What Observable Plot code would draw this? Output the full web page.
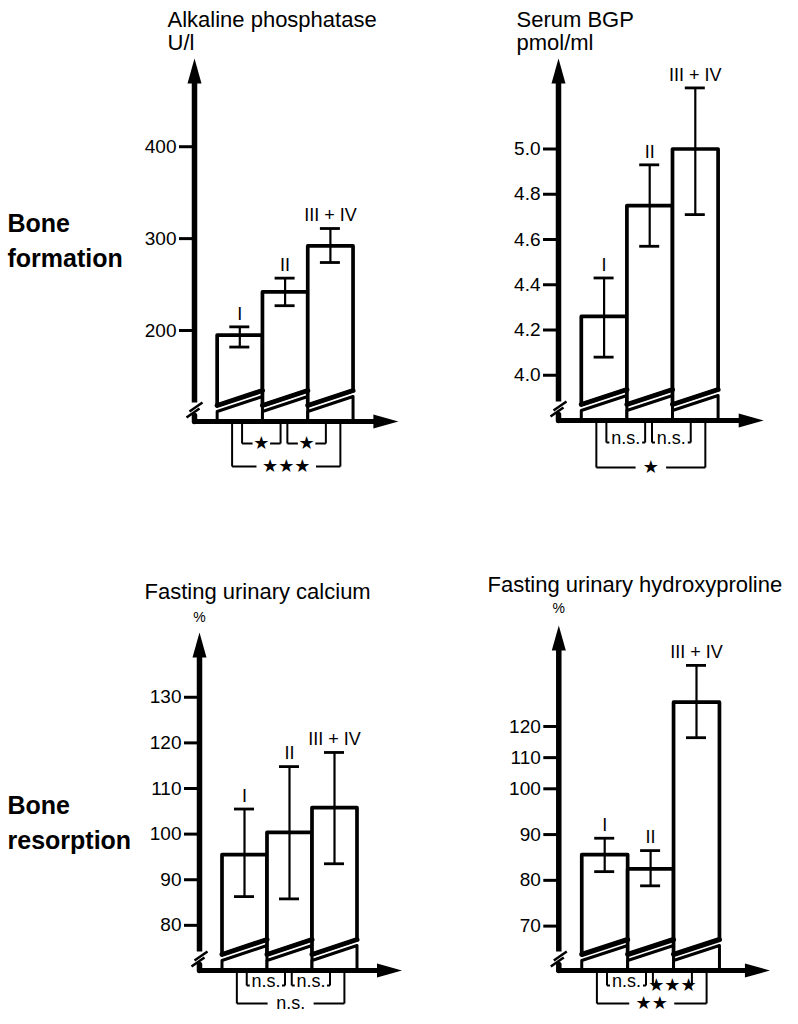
<!DOCTYPE html>
<html><head><meta charset="utf-8">
<script src="https://cdn.jsdelivr.net/npm/d3@7"></script>
<script src="https://cdn.jsdelivr.net/npm/@observablehq/plot@0.6"></script>
<style>
body{margin:0;background:#fff;}
#wrap{position:relative;width:798px;height:1024px;background:#fff;}
#wrap svg{position:absolute;}
</style></head><body><div id="wrap"></div>
<script>
// ---------- data ----------
const groups = ["I", "II", "III + IV"];
const sigPairs = [[0, 1], [1, 2], [0, 2]];

// Alkaline phosphatase, U/l
const alpMean = [195, 242, 292];
const alpLow = [182, 227, 274];
const alpHigh = [204, 257, 311];
const alpTicks = [200, 300, 400];
const alpSig = ["★", "★", "★★★"];

// Serum BGP, pmol/ml
const bgpMean = [4.26, 4.75, 5.00];
const bgpLow = [4.08, 4.57, 4.71];
const bgpHigh = [4.43, 4.93, 5.27];
const bgpTicks = [4.0, 4.2, 4.4, 4.6, 4.8, 5.0];
const bgpSig = ["n.s.", "n.s.", "★"];

// Fasting urinary calcium, %
const caMean = [95.5, 100.4, 105.8];
const caLow = [86.3, 85.8, 93.5];
const caHigh = [105.5, 114.8, 117.9];
const caTicks = [80, 90, 100, 110, 120, 130];
const caSig = ["n.s.", "n.s.", "n.s."];

// Fasting urinary hydroxyproline, %
const hypMean = [85.6, 82.5, 127.8];
const hypLow = [81.9, 78.8, 116.4];
const hypHigh = [89.2, 86.5, 139.6];
const hypTicks = [70, 80, 90, 100, 110, 120];
const hypSig = ["n.s.", "★★★", "★★"];

// ---------- layout / style ----------
const FONT = "Liberation Sans, Arial, Helvetica, sans-serif";
const STAR_FONT = "DejaVu Sans, sans-serif";
const arrowUp = {draw(c) { c.moveTo(0, 0); c.lineTo(7, 25); c.lineTo(-7, 25); c.closePath(); }};
const arrowRight = {draw(c) { c.moveTo(0, 0); c.lineTo(-25, -7); c.lineTo(-25, 7); c.closePath(); }};

const panels = [
  {left: 0, top: 0, axisX: 194, unit: 45.3, xMax: 4, yDomain: [101, 496], yRange: [421, 58],
   inner: 22, outer: 45, title: "Alkaline phosphatase", unitLabel: "U/l", titleX: 167, titleY: 26, unitY: 49,
   side: "Bone\nformation", sideY: 266, fmt: d3.format("d"),
   data: {mean: alpMean, low: alpLow, high: alpHigh, ticks: alpTicks, sig: alpSig}},
  {left: 399, top: 0, axisX: 159, unit: 45.6, xMax: 4, yDomain: [3.80, 5.40], yRange: [420, 58],
   inner: 22, outer: 47, title: "Serum BGP", unitLabel: "pmol/ml", titleX: 117, titleY: 26, unitY: 49,
   fmt: d3.format(".1f"),
   data: {mean: bgpMean, low: bgpLow, high: bgpHigh, ticks: bgpTicks, sig: bgpSig}},
  {left: 0, top: 512, axisX: 199, unit: 45, xMax: 4, yDomain: [70.1, 144.2], yRange: [458, 120],
   inner: 15, outer: 33, title: "Fasting urinary calcium", pct: true, pctY: 109, titleX: 144, titleY: 86,
   side: "Bone\nresorption", sideY: 336, fmt: d3.format("d"),
   data: {mean: caMean, low: caLow, high: caHigh, ticks: caTicks, sig: caSig}},
  // this axis is drawn with a tighter spacing above 100 in the original
  {left: 399, top: 512, axisX: 159.3, unit: 45.9, xMax: 4.1, yDomain: [60.3, 100, 152.4], yRange: [458, 276.3, 113],
   inner: 15, outer: 33, title: "Fasting urinary hydroxyproline", pct: true, pctY: 100, titleX: 88, titleY: 79,
   fmt: d3.format("d"),
   data: {mean: hypMean, low: hypLow, high: hypHigh, ticks: hypTicks, sig: hypSig}}
];

function panel(cfg) {
  const d = cfg.data;
  const ys = d3.scaleLinear(cfg.yDomain, cfg.yRange);
  const yAt = px => ys.invert(px);
  const B = cfg.yRange[0];
  const T = cfg.yRange[cfg.yRange.length - 1];
  const yB = cfg.yDomain[0];
  const yT = cfg.yDomain[cfg.yDomain.length - 1];
  const u = cfg.unit;
  const ax = -0.5;

  // y scale for Plot: piecewise axes use a scale transform
  let yOpts;
  if (cfg.yDomain.length === 3) {
    const [d0, d1, d2] = cfg.yDomain, [r0, r1, r2] = cfg.yRange;
    const ratio = ((r1 - r2) / (d2 - d1)) / ((r0 - r1) / (d1 - d0));
    const tf = v => v <= d1 ? v : d1 + (v - d1) * ratio;
    yOpts = {transform: tf, domain: [d0, tf(d2)], range: [r0, r2], axis: null};
  } else {
    yOpts = {domain: cfg.yDomain, range: cfg.yRange, axis: null};
  }

  const rows = groups.map((g, i) => ({g, i, mean: d.mean[i], low: d.low[i], high: d.high[i]}));

  const upper = rows.flatMap(r => [
    {bar: r.i, x: r.i, y: yAt(B - 16)},
    {bar: r.i, x: r.i, y: r.mean},
    {bar: r.i, x: r.i + 1, y: r.mean},
    {bar: r.i, x: r.i + 1, y: yAt(B - 31)},
    {bar: r.i, x: r.i, y: yAt(B - 16)}
  ]);
  const bottoms = rows.map(r => ({x1: r.i, x2: r.i + 1, y1: yAt(B - 16), y2: yAt(B - 31)}));
  const stub = rows.flatMap(r => [
    {bar: r.i, x: r.i, y: yB},
    {bar: r.i, x: r.i, y: yAt(B - 10)},
    {bar: r.i, x: r.i + 1, y: yAt(B - 25)},
    {bar: r.i, x: r.i + 1, y: yB}
  ]);

  const labelW = s => s === "n.s." ? 30 : 14.5 * [...s].length;
  const br = sigPairs.map(([a, b], k) => {
    const outer = b - a > 1;
    const x1 = outer ? a + 0.5 - 0.17 : a + 0.5 + 0.05;
    const x2 = outer ? b + 0.5 + 0.22 : b + 0.5 - 0.1;
    const mid = (x1 + x2) / 2;
    const label = d.sig[k];
    const half = (labelW(label) + (outer ? 16 : 3)) / 2 / u;
    return {x1, x2, mid, label, outer,
      y: yAt(B + (outer ? cfg.outer : cfg.inner)),
      l2: Math.max(x1 + 3 / u, mid - half), r1: Math.min(x2 - 3 / u, mid + half),
      baselineNs: label === "n.s." && !outer};
  });
  const breakMarks = [[-8, 4, 5, 13], [-5, 10, 8, 19]];

  const marks = [
    // bars (broken)
    Plot.line(stub, {x: "x", y: "y", z: "bar", fill: "white", stroke: "black", strokeWidth: 3, strokeLinejoin: "round"}),
    Plot.line(upper, {x: "x", y: "y", z: "bar", fill: "white", stroke: "black", strokeWidth: 3.7, strokeLinejoin: "round"}),
    Plot.link(bottoms, {x1: "x1", x2: "x2", y1: "y1", y2: "y2", stroke: "black", strokeWidth: 5, strokeLinecap: "round"}),
    // x axis
    Plot.link([0], {x1: () => ax, x2: () => cfg.xMax - 15 / u, y1: () => yB, y2: () => yB, stroke: "black", strokeWidth: 5, strokeLinecap: "round"}),
    Plot.dot([0], {x: () => cfg.xMax, y: () => yB, symbol: arrowRight, fill: "black", stroke: "none"}),
    // y axis with break
    Plot.link([0], {x1: () => ax, x2: () => ax, y1: () => yAt(B - 19), y2: () => yAt(T + 15), stroke: "black", strokeWidth: 5.5}),
    Plot.link([0], {x1: () => ax, x2: () => ax, y1: () => yB, y2: () => yAt(B - 6), stroke: "black", strokeWidth: 5.5, strokeLinecap: "round"}),
    Plot.dot([0], {x: () => ax, y: () => yT, symbol: arrowUp, fill: "black", stroke: "none"}),
    Plot.link(breakMarks, {
      x1: p => ax + p[0] / u, y1: p => yAt(B - p[1]), x2: p => ax + p[2] / u, y2: p => yAt(B - p[3]),
      stroke: "black", strokeWidth: 2.5}),
    // ticks and labels
    Plot.ruleY(d.ticks, {y: t => t, x1: ax - 15 / u, x2: ax, stroke: "black", strokeWidth: 3}),
    Plot.text(d.ticks, {x: ax - 18 / u, y: t => t, text: t => cfg.fmt(t), textAnchor: "end", lineAnchor: "middle", fontSize: 19, fontFamily: FONT}),
    // error bars
    Plot.ruleX(rows, {x: r => r.i + 0.5, y1: "low", y2: "high", stroke: "black", strokeWidth: 2.2}),
    Plot.ruleY(rows, {y: "high", x1: r => r.i + 0.5 - 10 / u, x2: r => r.i + 0.5 + 10 / u, stroke: "black", strokeWidth: 2.8}),
    Plot.ruleY(rows, {y: "low", x1: r => r.i + 0.5 - 10 / u, x2: r => r.i + 0.5 + 10 / u, stroke: "black", strokeWidth: 2.8}),
    Plot.text(rows, {x: r => r.i + 0.5, y: "high", text: "g", dy: -13, lineAnchor: "middle", fontSize: 18, fontFamily: FONT}),
    // significance brackets
    Plot.link(br, {x1: "x1", x2: "x1", y1: () => yB, y2: "y", stroke: "black", strokeWidth: 2}),
    Plot.link(br, {x1: "x2", x2: "x2", y1: () => yB, y2: "y", stroke: "black", strokeWidth: 2}),
    Plot.link(br, {x1: "x1", x2: "l2", y1: "y", y2: "y", stroke: "black", strokeWidth: 2}),
    Plot.link(br, {x1: "r1", x2: "x2", y1: "y", y2: "y", stroke: "black", strokeWidth: 2}),
    Plot.text(br.filter(b => b.label !== "n.s."), {x: "mid", y: "y", text: "label", lineAnchor: "middle", fontSize: 18, fontFamily: STAR_FONT}),
    Plot.text(br.filter(b => b.label === "n.s." && !b.baselineNs), {x: "mid", y: "y", text: "label", lineAnchor: "middle", fontSize: 18, fontFamily: FONT}),
    Plot.text(br.filter(b => b.baselineNs), {x: "mid", y: "y", text: "label", lineAnchor: "bottom", dy: 1, fontSize: 18, fontFamily: FONT}),
    // titles
    Plot.text([cfg.title], {frameAnchor: "top-left", dx: cfg.titleX, dy: cfg.titleY, text: t => t, textAnchor: "start", lineAnchor: "bottom", fontSize: 22, fontFamily: FONT})
  ];
  if (cfg.unitLabel) marks.push(Plot.text([cfg.unitLabel], {frameAnchor: "top-left", dx: cfg.titleX, dy: cfg.unitY, text: t => t, textAnchor: "start", lineAnchor: "bottom", fontSize: 22, fontFamily: FONT}));
  if (cfg.pct) marks.push(Plot.text(["%"], {frameAnchor: "top-left", dx: cfg.axisX, dy: cfg.pctY, text: t => t, textAnchor: "middle", lineAnchor: "bottom", fontSize: 14, fontFamily: FONT}));
  if (cfg.side) marks.push(Plot.text([cfg.side], {frameAnchor: "top-left", dx: 7, dy: cfg.sideY, text: t => t, textAnchor: "start", lineAnchor: "bottom", lineHeight: 1.38, fontSize: 25, fontWeight: "bold", fontFamily: FONT}));

  const svg = Plot.plot({
    width: 399, height: 512, margin: 0,
    x: {domain: [ax, cfg.xMax], range: [cfg.axisX, cfg.axisX + (cfg.xMax + 0.5) * u], axis: null},
    y: yOpts,
    style: {background: "transparent", color: "black", fontFamily: FONT, overflow: "visible"},
    marks
  });
  svg.style.left = cfg.left + "px";
  svg.style.top = cfg.top + "px";
  return svg;
}

const wrap = document.getElementById("wrap");
for (const cfg of panels) wrap.appendChild(panel(cfg));
</script></body></html>
